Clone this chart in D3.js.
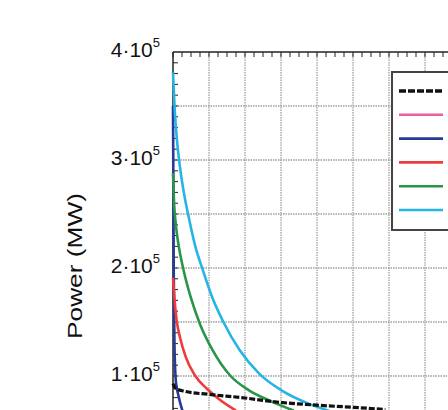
<!DOCTYPE html>
<html>
<head>
<meta charset="utf-8">
<script src="https://cdn.jsdelivr.net/npm/d3@7"></script>
<style>
  body { margin: 0; background: #fff; }
  svg { display: block; }
</style>
</head>
<body>
<script>
// y ticks (units of 1e5 MW)
var yTicks = [1, 2, 3, 4];
var seriesNames = ["black", "pink", "navy", "red", "green", "cyan"];
var seriesColors = ["#111111", "#e8609f", "#263a96", "#ef3b3b", "#2a9548", "#25b4e6"];

// series values, x in grid units, y in 1e5 MW
var blackX = [0, 0.06, 0.3, 1.0, 1.9, 3.0, 4.0, 5.0, 5.9];
var blackY = [0.93, 0.89, 0.86, 0.83, 0.80, 0.755, 0.73, 0.71, 0.69];
var navyX = [0, 0.01, 0.02, 0.04, 0.08, 0.15, 0.28];
var navyY = [3.5, 2.8, 2.0, 1.3, 0.95, 0.82, 0.66];
var redX = [0, 0.04, 0.1, 0.2, 0.35, 0.62, 0.95, 1.3, 1.75];
var redY = [1.91, 1.72, 1.52, 1.35, 1.18, 1.0, 0.88, 0.78, 0.68];
var greenX = [0, 0.03, 0.08, 0.16, 0.28, 0.5, 0.75, 1.1, 1.6, 2.1, 2.7, 3.35];
var greenY = [2.88, 2.6, 2.4, 2.2, 2.0, 1.72, 1.48, 1.24, 1.0, 0.87, 0.77, 0.68];
var cyanX = [0, 0.05, 0.12, 0.2, 0.3, 0.45, 0.62, 0.83, 1.1, 1.4, 1.85, 2.4, 3.0, 3.8, 4.4];
var cyanY = [3.81, 3.45, 3.15, 2.92, 2.7, 2.45, 2.2, 1.98, 1.72, 1.5, 1.24, 1.02, 0.87, 0.74, 0.67];

var W = 448, H = 410;
var plotLeft = 173, plotTop = 52;
var unitX = 36;     // px per grid unit
var unitY = 108;    // px per 1e5

var x = d3.scaleLinear().domain([0, 8]).range([plotLeft, plotLeft + 8 * unitX]);
var y = d3.scaleLinear().domain([0, 4]).range([plotTop + 4 * unitY, plotTop]);

var svg = d3.select("body").append("svg").attr("width", W).attr("height", H);

// grid
svg.selectAll(".vgrid").data(d3.range(1, 9)).enter().append("line")
    .attr("x1", x).attr("x2", x).attr("y1", y(4)).attr("y2", y(0))
    .attr("stroke", "#a0a0a0").attr("stroke-width", 1.3).attr("stroke-dasharray", "1.5,1");
svg.selectAll(".hgrid").data(d3.range(0.5, 4, 0.5)).enter().append("line")
    .attr("x1", x(0)).attr("x2", x(8)).attr("y1", y).attr("y2", y)
    .attr("stroke", "#a0a0a0").attr("stroke-width", 1.3).attr("stroke-dasharray", "1.5,1");

// minor ticks, inward
svg.selectAll(".ytk").data(d3.range(0, 40)).enter().append("line")
    .attr("x1", x(0)).attr("x2", x(0) + 5)
    .attr("y1", function (d) { return y(d / 10); }).attr("y2", function (d) { return y(d / 10); })
    .attr("stroke", "#222").attr("stroke-width", 1);
svg.selectAll(".xtk").data(d3.range(0, 33)).enter().append("line")
    .attr("x1", function (d) { return x(d / 4); }).attr("x2", function (d) { return x(d / 4); })
    .attr("y1", y(4)).attr("y2", y(4) + 5)
    .attr("stroke", "#222").attr("stroke-width", 1);

// frame
svg.append("line").attr("x1", x(0)).attr("x2", x(8)).attr("y1", y(4)).attr("y2", y(4))
    .attr("stroke", "#222").attr("stroke-width", 1.3);
svg.append("line").attr("x1", x(0)).attr("x2", x(0)).attr("y1", y(4)).attr("y2", y(0))
    .attr("stroke", "#222").attr("stroke-width", 1.5);

// curves
var line = d3.line()
    .x(function (d) { return x(d[0]); })
    .y(function (d) { return y(d[1]); })
    .curve(d3.curveMonotoneX);

function drawSeries(xs, ys, color, dash) {
    var p = svg.append("path").attr("d", line(d3.zip(xs, ys)))
        .attr("fill", "none").attr("stroke", color)
        .attr("stroke-width", dash ? 3.2 : 2.6)
        .attr("stroke-linejoin", "round");
    if (dash) p.attr("stroke-dasharray", dash);
}
drawSeries(navyX, navyY, seriesColors[2]);
drawSeries(redX, redY, seriesColors[3]);
drawSeries(greenX, greenY, seriesColors[4]);
drawSeries(cyanX, cyanY, seriesColors[5]);
drawSeries(blackX, blackY, seriesColors[0], "6,2");

// y tick labels
var lab = svg.selectAll(".ylab").data(yTicks).enter().append("text")
    .attr("x", 160).attr("y", function (d) { return y(d) + 5; })
    .attr("text-anchor", "end")
    .attr("font-family", "Liberation Sans, Arial, sans-serif")
    .attr("font-size", 21).attr("fill", "#111");
lab.append("tspan").text(function (d) { return d + "\u00b710"; });
lab.append("tspan").attr("dy", -10).attr("font-size", 13).text("5");

// axis title
svg.append("text")
    .attr("transform", "translate(82," + 266 + ") rotate(-90)")
    .attr("text-anchor", "middle")
    .attr("font-family", "Liberation Sans, Arial, sans-serif")
    .attr("font-size", 21).attr("fill", "#111")
    .attr("textLength", 146).attr("lengthAdjust", "spacingAndGlyphs")
    .text("Power (MW)");

// legend
var lgX = 392, lgY = 72;
svg.append("rect").attr("x", lgX).attr("y", lgY).attr("width", 120).attr("height", 158)
    .attr("fill", "#fff").attr("stroke", "#444").attr("stroke-width", 2);
var ly = d3.scaleLinear().domain([0, 5]).range([91, 210]);
svg.selectAll(".lg").data(seriesNames).enter().append("line")
    .attr("x1", 399).attr("x2", 443)
    .attr("y1", function (d, i) { return ly(i); }).attr("y2", function (d, i) { return ly(i); })
    .attr("stroke", function (d, i) { return seriesColors[i]; })
    .attr("stroke-width", function (d, i) { return i === 0 ? 3.5 : 2.6; })
    .attr("stroke-dasharray", function (d, i) { return i === 0 ? "7,2" : null; });
</script>
</body>
</html>
